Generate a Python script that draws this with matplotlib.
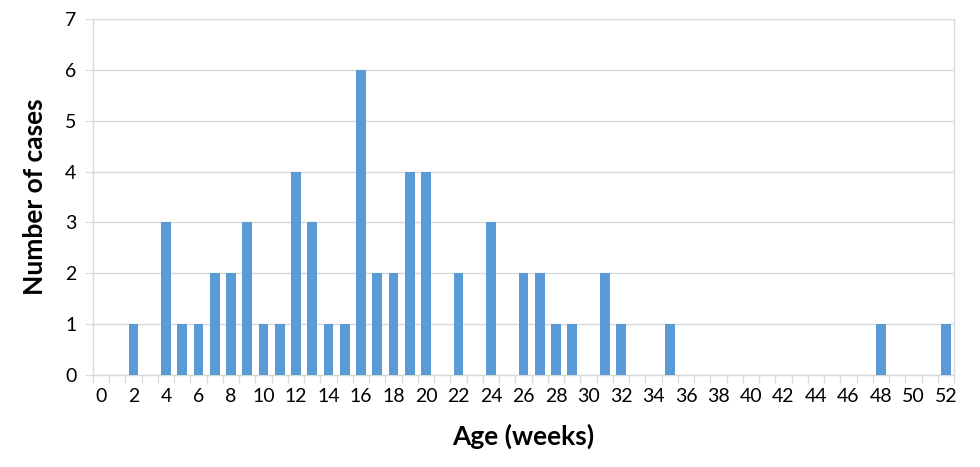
import numpy as np
import matplotlib.pyplot as plt

# ── Data ──────────────────────────────────────────────────────────────────────
ages = list(range(0, 53))
cases = [0, 0, 1, 0, 3, 1, 1, 2, 2, 3,
         1, 1, 4, 3, 1, 1, 6, 2, 2, 4,
         4, 0, 2, 0, 3, 0, 2, 2, 1, 1,
         0, 2, 1, 0, 0, 1, 0, 0, 0, 0,
         0, 0, 0, 0, 0, 0, 0, 0, 1, 0,
         0, 0, 1]
x_labels = [str(a) for a in range(0, 53, 2)]

plt.rcParams['font.family'] = ['Lato', 'DejaVu Sans']

grid_col = '#D9D9D9'
bar_col = '#5B9BD5'

fig = plt.figure(figsize=(9.8, 4.67), dpi=100)
ax = fig.add_axes([0.0949, 0.197, 0.8786, 0.7623])

ax.bar(ages, cases, width=0.6, color=bar_col, zorder=3)

ax.set_xlim(-0.5, 52.5)
ax.set_ylim(0, 7)

# category-style ticks: marks between categories, labels on even ages
ax.set_xticks(range(0, 53, 2))
ax.set_xticklabels(x_labels)
ax.set_xticks(np.arange(-0.5, 53, 1), minor=True)
ax.tick_params(axis='x', which='major', length=0, labelsize=14, pad=9)
ax.tick_params(axis='x', which='minor', length=6, color=grid_col, width=1)

ax.set_yticks(range(0, 8))
ax.tick_params(axis='y', which='major', length=6, color=grid_col,
               labelsize=14, pad=6)
ax.yaxis.grid(True, color=grid_col, linewidth=1, zorder=0)

for s in ['left', 'right', 'bottom']:
    ax.spines[s].set_color(grid_col)
    ax.spines[s].set_linewidth(1)
ax.spines['top'].set_visible(False)

ax.set_xlabel('Age (weeks)', fontsize=19, fontweight='bold', labelpad=14)
ax.set_ylabel('Number of cases', fontsize=19, fontweight='bold', labelpad=13)

fig.savefig('out.png', dpi=100)
